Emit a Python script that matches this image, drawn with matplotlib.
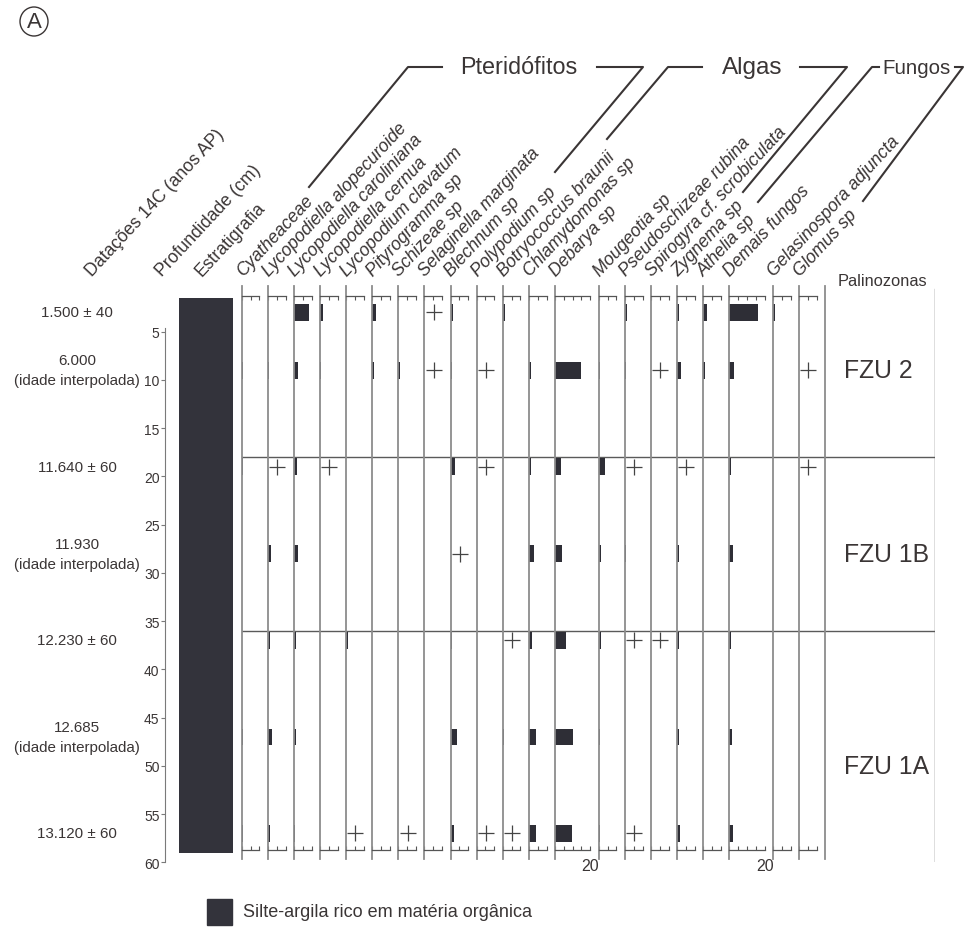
import matplotlib
matplotlib.use("Agg")
import matplotlib.pyplot as plt
from matplotlib.lines import Line2D
from matplotlib.patches import Ellipse, Rectangle

plt.rcParams["font.family"] = ["Liberation Sans", "DejaVu Sans"]

W, H = 964, 928
INK = "#3a3535"
BAR = "#2e2e36"
GRID = "#8c8c8c"
LABEL_ROT = 47

# ---- data -------------------------------------------------------------
DEPTHS = [3, 9, 19, 28, 37, 47, 57]
DATES = ["1.500 ± 40", "6.000\n(idade interpolada)", "11.640 ± 60",
         "11.930\n(idade interpolada)", "12.230 ± 60",
         "12.685\n(idade interpolada)", "13.120 ± 60"]
STRAT_TOP, STRAT_BASE = 1.5, 59
ZONE_BOUNDS = [18, 36]
ZONE_NAMES = ["FZU 2", "FZU 1B", "FZU 1A"]
ZONE_LABEL_DEPTHS = [9, 28, 50]

P = "+"  # presence below counting level

PTERIDOFITOS = ["Cyatheaceae", "Lycopodiella alopecuroide",
                "Lycopodiella caroliniana", "Lycopodiella cernua",
                "Lycopodium clavatum", "Pityrogramma sp", "Schizeae sp",
                "Selaginella marginata", "Blechnum sp", "Polypodium sp"]
PTERIDOFITOS_PCT = [
    [None, 1.0, 1.0, None, None, 0.6, 0.8],
    [None, 0.8, P, 1.9, 1.1, 2.3, 1.1],
    [8.7, 2.5, 1.5, 2.1, 1.1, 1.0, 0.8],
    [1.5, 0.8, P, None, None, None, None],
    [None, None, None, None, 1.0, None, P],
    [2.3, 0.8, None, None, None, None, None],
    [None, 0.8, None, None, None, None, P],
    [P, P, None, None, None, None, None],
    [1.3, 0.8, 2.7, P, 1.0, 3.6, 2.1],
    [None, P, P, None, None, None, P],
]

ALGAS = ["Botryococcus braunii", "Chlamydomonas sp", "Debarya sp",
         "Mougeotia sp", "Pseudoschizeae rubina",
         "Spirogyra cf. scrobiculata", "Zygnema sp"]
ALGAS_PCT = [
    [1.5, None, None, None, P, 0.8, P],
    [None, 1.3, 1.5, 2.7, 1.7, 4.2, 4.2],
    [None, 15.0, 3.4, 4.0, 6.3, 10.5, 9.5],
    [None, 0.8, 3.4, 1.1, 1.1, 0.8, 0.8],
    [1.0, 0.8, P, 0.8, P, None, P],
    [None, P, None, None, P, None, None],
    [1.0, 2.1, P, 1.1, 1.3, 1.1, 1.5],
]

FUNGOS = ["Athelia sp", "Demais fungos", "Gelasinospora adjuncta",
          "Glomus sp"]
FUNGOS_PCT = [
    [2.3, 1.0, None, None, None, None, None],
    [16.0, 2.7, 1.1, 2.1, 1.1, 1.7, 2.3],
    [1.0, None, None, None, None, None, None],
    [None, P, P, None, None, None, None],
]

WIDE_TAXA = ["Debarya sp", "Demais fungos"]

# ---- layout (pixels) --------------------------------------------------
Y_D0 = 284.4          # pixel row of depth 0
PX_PER_CM = 9.65
PX_PER_PCT = 1.77
COL_X0 = 241.7
COL_GAP = 8.4
SCALE_TOP_PX, SCALE_BOT_PX = 296.7, 850.7
LINE_TOP_PX, LINE_BOT_PX = 286.7, 860.0
ZONE_RIGHT_PX = 935.0


def fx(px):
    return px / W


def fy(py):
    return 1 - py / H


def px_to_depth(py):
    return (py - Y_D0) / PX_PER_CM


def add_px_axes(x0, y0, x1, y1):
    return fig.add_axes([fx(x0), fy(y1), (x1 - x0) / W, (y1 - y0) / H])


fig = plt.figure(figsize=(W / 100, H / 100), dpi=100)

# ---- depth axis + stratigraphy ---------------------------------------
ax_d = add_px_axes(165, Y_D0, 233, Y_D0 + 60 * PX_PER_CM)
ax_d.set_ylim(60, 0)
ax_d.set_xlim(0, 1)
ax_d.patch.set_visible(False)
for s in ["top", "right", "bottom"]:
    ax_d.spines[s].set_visible(False)
ax_d.spines["left"].set_bounds(4.6, 60)
ax_d.spines["left"].set_color("#7a7a7a")
ax_d.set_yticks(range(5, 61, 5))
ax_d.tick_params(axis="y", length=3, width=0.8, color="#7a7a7a",
                 labelsize=10, labelcolor=INK, pad=1)
ax_d.set_xticks([])
strat = ax_d.bar(0.206, STRAT_BASE - STRAT_TOP, bottom=STRAT_TOP,
                 width=0.794, align="edge", color="#33333b")

ytr = ax_d.get_yaxis_transform()
for d, lab in zip(DEPTHS, DATES):
    ax_d.text(-1.29, d, lab, transform=ytr, ha="center", va="center",
              fontsize=10.9, color=INK, linespacing=1.55)

# ---- zones ------------------------------------------------------------
ax_z = add_px_axes(COL_X0, Y_D0, ZONE_RIGHT_PX, Y_D0 + 60 * PX_PER_CM)
ax_z.set_ylim(60, 0)
ax_z.set_xlim(0, 1)
ax_z.axis("off")
for b in ZONE_BOUNDS:
    ax_z.axhline(b, color="#5a5a5a", lw=1.0)
ax_z.axvline(1, ymin=(60 - 59.9) / 60, ymax=(60 - 0.6) / 60,
             color="#5a5a5a", lw=1.0)
ztr = ax_z.get_yaxis_transform()
for d, name in zip(ZONE_LABEL_DEPTHS, ZONE_NAMES):
    ax_z.text(0.869, d, name, transform=ztr, ha="left", va="center",
              fontsize=17.8, color=INK)
ax_z.text(0.860, px_to_depth(282), "Palinozonas", transform=ztr,
          ha="left", va="center", fontsize=11.8, color=INK)

# ---- taxon columns ----------------------------------------------------
d_top, d_bot = px_to_depth(SCALE_TOP_PX), px_to_depth(SCALE_BOT_PX)
span = SCALE_BOT_PX - SCALE_TOP_PX
ext_lo = -(LINE_BOT_PX - SCALE_BOT_PX) / span
ext_hi = 1 + (SCALE_TOP_PX - LINE_TOP_PX) / span

names = PTERIDOFITOS + ALGAS + FUNGOS
series = PTERIDOFITOS_PCT + ALGAS_PCT + FUNGOS_PCT

x = COL_X0
for name, vals in zip(names, series):
    xmax = 20 if name in WIDE_TAXA else 10
    width_px = xmax * PX_PER_PCT
    ax = add_px_axes(x, SCALE_TOP_PX, x + width_px, SCALE_BOT_PX)
    ax.patch.set_visible(False)
    ax.set_xlim(0, xmax)
    ax.set_ylim(d_bot, d_top)
    for s in ["left", "right"]:
        ax.spines[s].set_visible(False)
    for s in ["top", "bottom"]:
        ax.spines[s].set_color("#555555")
        ax.spines[s].set_linewidth(0.9)
    ax.set_yticks([])
    ticks = list(range(0, xmax + 1, 5))
    ax.set_xticks(ticks)
    ax.set_xticklabels(["20" if t == 20 else "" for t in ticks])
    ax.tick_params(axis="x", direction="in", length=3, width=0.8,
                   color="#555555", top=True, bottom=True,
                   labelsize=11.5, labelcolor=INK, pad=6)
    ax.axvline(0, ymin=ext_lo, ymax=ext_hi, color=GRID, lw=1.3,
               clip_on=False)

    for d, v in zip(DEPTHS, vals):
        if v is None:
            continue
        if v == P:
            ax.plot(5.3, d, marker="+", ms=11, mew=0.9, color="#444444")
        else:
            ax.barh(d, v, height=1.75, left=0, color=BAR)

    fig.text(fx(x + 1), fy(277), name, rotation=LABEL_ROT,
             rotation_mode="anchor", ha="left", va="baseline",
             fontsize=12.7, style="italic", color=INK)
    x += width_px + COL_GAP

# closing line after the last column
fig.add_artist(Line2D([fx(x), fx(x)], [fy(LINE_TOP_PX), fy(LINE_BOT_PX)],
                      color=GRID, lw=1.3))

# ---- header labels ----------------------------------------------------
for px, lab in [(92, "Datações 14C (anos AP)"), (162, "Profundidade (cm)"),
                (202, "Estratigrafia")]:
    fig.text(fx(px), fy(277), lab, rotation=LABEL_ROT,
             rotation_mode="anchor", ha="left", va="baseline",
             fontsize=12.7, color=INK)

# group brackets
BRACKETS = [
    [(309, 188), (408, 68), (442, 68)],
    [(597, 68), (643, 68), (555, 173)],
    [(607, 140), (668, 68), (702, 68)],
    [(800, 68), (847, 68), (743, 193)],
    [(758, 203), (872, 68), (879, 68)],
    [(955, 68), (963, 68), (863, 202)],
]
for pts in BRACKETS:
    xs, ys = zip(*pts)
    fig.add_artist(Line2D([fx(v) for v in xs], [fy(v) for v in ys],
                          color=INK, lw=1.5))
fig.text(fx(519), fy(68), "Pteridófitos", ha="center", va="center",
         fontsize=16.8, color=INK)
fig.text(fx(752), fy(68), "Algas", ha="center", va="center",
         fontsize=17.5, color=INK)
fig.text(fx(917), fy(68), "Fungos", ha="center", va="center",
         fontsize=14.8, color=INK)

# panel letter
fig.add_artist(Ellipse((fx(34), fy(22.5)), 28 / W, 29 / H,
                       transform=fig.transFigure, fill=False, ec=INK, lw=1))
fig.text(fx(34), fy(23), "A", ha="center", va="center", fontsize=16,
         color=INK)

# legend
fig.add_artist(Rectangle((fx(207), fy(926)), 25 / W, 26 / H,
                         transform=fig.transFigure, color="#33333b"))
fig.text(fx(243), fy(913), "Silte-argila rico em matéria orgânica",
         ha="left", va="center", fontsize=13, color=INK)

fig.savefig("out.png", dpi=100, facecolor="white")
